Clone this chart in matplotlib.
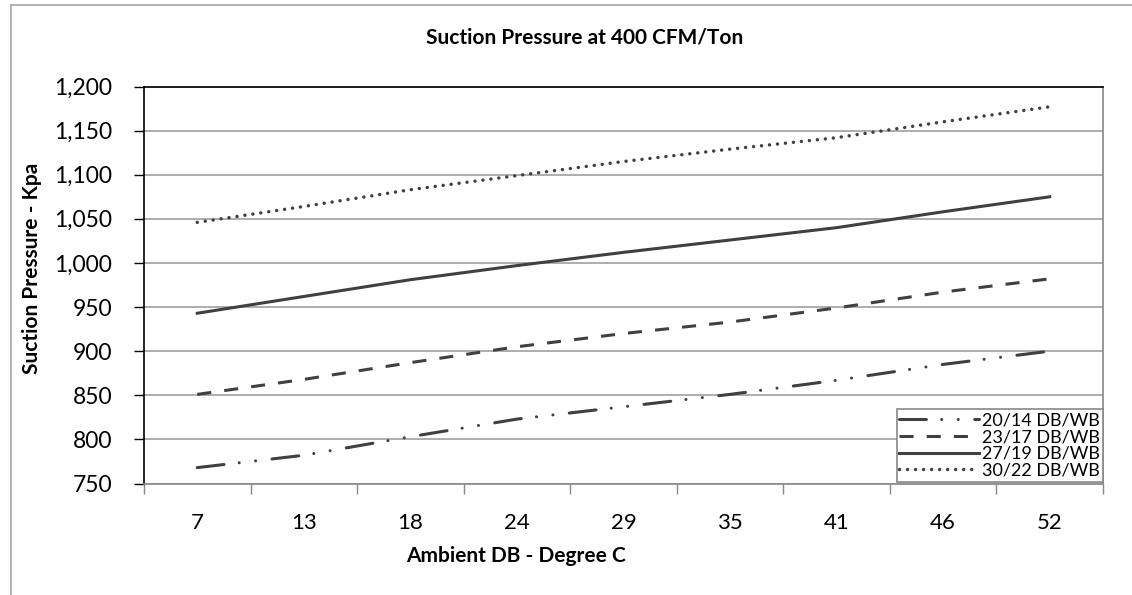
import matplotlib
matplotlib.use("Agg")
from matplotlib import pyplot as plt
from matplotlib.ticker import FuncFormatter
import numpy as np

plt.rcParams['font.family'] = ['Lato', 'DejaVu Sans']

# ambient DB categories (deg C)
ambient = ["7", "13", "18", "24", "29", "35", "41", "46", "52"]

# suction pressure, kPa
p_20_14 = [768, 782, 803, 823, 837, 851, 867, 885, 900]
p_23_17 = [851, 868, 887, 905, 920, 933, 949, 967, 982]
p_27_19 = [943, 962, 981, 997, 1012, 1026, 1040, 1058, 1075]
p_30_22 = [1046, 1064, 1083, 1099, 1115, 1129, 1142, 1160, 1177]

labels = ["20/14 DB/WB", "23/17 DB/WB", "27/19 DB/WB", "30/22 DB/WB"]

fig = plt.figure(figsize=(11.32, 5.95), dpi=100)
ax = fig.add_axes([144/1132, 1 - 483.5/595, (1103-144)/1132, 397/595])

# outer chart border (left and top only visible)
fig.add_artist(plt.Line2D([11/1132, 11/1132], [0, 1 - 5/595], color="#a6a6a6", lw=1.2))
fig.add_artist(plt.Line2D([11/1132, 1], [1 - 5/595, 1 - 5/595], color="#a6a6a6", lw=1.2))

x = np.arange(len(ambient))
col = "#404040"
lw = 2.2
ax.plot(x, p_20_14, color=col, lw=lw, dashes=(8.8, 5.0, 0.01, 5.4, 0.01, 5.4),
        dash_capstyle='round', label=labels[0])
ax.plot(x, p_23_17, color=col, lw=lw, dashes=(4.6, 4.3), label=labels[1])
ax.plot(x, p_27_19, color=col, lw=lw, label=labels[2])
ax.plot(x, p_30_22, color=col, lw=2.5, dashes=(0.01, 2.3), dash_capstyle='round', label=labels[3])

ax.set_xlim(-0.5, len(ambient) - 0.5)
ax.set_ylim(750, 1200)
ax.set_yticks(np.arange(750, 1201, 50))
ax.yaxis.set_major_formatter(FuncFormatter(lambda v, p: "{:,.0f}".format(v)))
ax.set_xticks(x)
ax.set_xticklabels(ambient)
ax.set_xticks(np.arange(-0.5, len(ambient)), minor=True)
ax.tick_params(axis='x', which='major', length=0, pad=21, labelsize=16)
ax.tick_params(axis='x', which='minor', length=7, color="#888888", width=1)
ax.tick_params(axis='y', length=7, width=1, pad=16, labelsize=16.5)

ax.grid(axis='y', color="#a0a0a0", lw=1.2)
ax.set_axisbelow(True)
ax.spines['left'].set_color("black")
ax.spines['top'].set_color("black")
ax.spines['right'].set_color("#888888")
ax.spines['bottom'].set_color("#888888")
for s in ax.spines.values():
    s.set_linewidth(1.2)

fig.text(585/1132, 1 - 38/595, "Suction Pressure at 400 CFM/Ton", ha='center', va='center',
         fontsize=15, fontweight='bold')
fig.text(516/1132, 1 - 556/595, "Ambient DB - Degree C", ha='center', va='center',
         fontsize=15, fontweight='bold')
fig.text(32/1132, 1 - 268/595, "Suction Pressure - Kpa", ha='center', va='center',
         rotation=90, fontsize=15, fontweight='bold')

leg = ax.legend(loc='lower right', bbox_to_anchor=(1, 0.005), borderaxespad=0, fontsize=13,
                fancybox=False, edgecolor="#888888", framealpha=1, handlelength=4.4,
                handletextpad=0.2, labelspacing=0.05, borderpad=0.15)
leg.get_frame().set_linewidth(1.2)

plt.savefig("out.png", dpi=100)
